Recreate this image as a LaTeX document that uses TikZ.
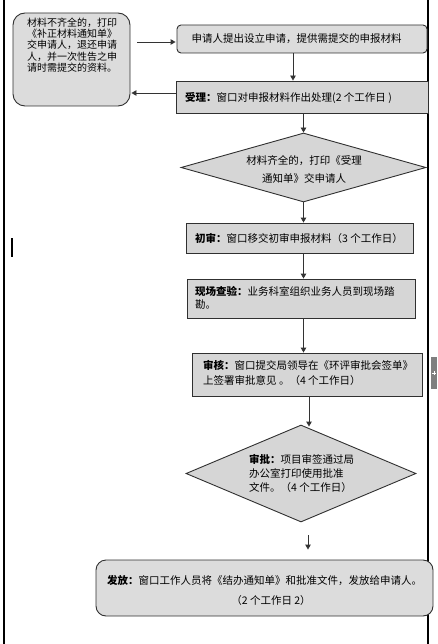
\documentclass[tikz,border=0pt]{standalone}
\usepackage{fontspec}
\setmainfont{Noto Sans CJK SC}
\usetikzlibrary{shapes.geometric,arrows.meta,calc}
\definecolor{boxfill}{HTML}{D6D6D6}
\definecolor{rboxfill}{HTML}{DCDCDC}
\definecolor{boxline}{HTML}{303030}
\definecolor{arrgray}{HTML}{333333}
\definecolor{tabgray}{HTML}{7F7F7F}
\tikzset{
  box/.style={draw=boxline, fill=boxfill, line width=0.9pt, inner sep=0pt, rectangle},
  rbox/.style={box, fill=rboxfill},
  dia/.style={diamond, draw=boxline, fill=boxfill, line width=0.9pt, inner sep=0pt},
  txt/.style={inner sep=0pt, font=\fontsize{10.5}{13}\selectfont, align=left},
  arr/.style={draw=arrgray, line width=0.9pt, -{Triangle[length=5pt,width=5.5pt]}},
  frame/.style={draw=black, line width=1.2pt}
}
\begin{document}
\begin{tikzpicture}[x=1pt,y=-1pt]
\useasboundingbox (0,0) rectangle (437,644);
% page frame
\draw[frame] (4,0) -- (4,644);
\draw[frame] (428,0) -- (428,644);
% cursor and side tab
\draw[black, line width=2pt] (12,238) -- (12,257);
\fill[tabgray] (431,357) rectangle (437,389);
\draw[white, line width=1pt] (432,373) -- (436,373) (434,371) -- (434,375);

% left box
\node[rbox, rounded corners=12pt, minimum width=117pt, minimum height=93pt] (L) at (71.5,59.5) {};
\node[txt, align=center, font=\fontsize{10}{11.2}\selectfont] (Lt) at (72,45)
  {材料不齐全的，打印\\《补正材料通知单》\\交申请人，退还申请\\人，并一次性告之申\\请时需提交的资料。};

% top box
\node[rbox, rounded corners=4pt, minimum width=250pt, minimum height=28pt] (A) at (302,39) {};
\node[txt] (At) at (296.5,38.5) {申请人提出设立申请，提供需提交的申报材料};

% acceptance
\node[box, minimum width=252pt, minimum height=32pt] (B) at (302,97) {};
\node[txt, anchor=west] (Bt) at (185,98) {\textbf{受理：}窗口对申报材料作出处理(2 个工作日 )};

% diamond 1
\node[dia, minimum width=245pt, minimum height=69pt] (D1) at (303.5,167.5) {};
\node[txt, align=center, font=\fontsize{10.5}{18}\selectfont] (D1t) at (304,169)
  {材料齐全的，打印《受理\\通知单》交申请人};

% first review
\node[box, minimum width=227pt, minimum height=30pt] (C) at (299.5,238) {};
\node[txt, anchor=west] (Ct) at (195,238) {\textbf{初审：}窗口移交初审申报材料（3 个工作日）};

% site inspection
\node[box, minimum width=228pt, minimum height=39pt] (E) at (301,298.5) {};
\node[txt, anchor=west] (Et) at (195,297.5) {\textbf{现场查验：}业务科室组织业务人员到现场踏\\勘。};

% review
\node[box, minimum width=230pt, minimum height=43pt] (F) at (307,374.5) {};
\node[txt, anchor=west, font=\fontsize{10.5}{15}\selectfont] (Ft) at (203,372.5)
  {\textbf{审核：}窗口提交局领导在《环评审批会签单》\\上签署审批意见 。（4 个工作日）};

% diamond 2
\node[dia, minimum width=230pt, minimum height=97pt] (D2) at (301,473.5) {};
\node[txt, anchor=west, font=\fontsize{10.5}{14}\selectfont] (D2t) at (249,473)
  {\textbf{审批：}项目审签通过局\\办公室打印使用批准\\文件。（4 个工作日）};

% issue
\node[rbox, rounded corners=10pt, minimum width=337pt, minimum height=56pt] (G) at (264.5,588) {};
\node[txt, anchor=west] (Gt1) at (107,581) {\textbf{发放：}窗口工作人员将《结办通知单》和批准文件，发放给申请人。};
\node[txt] (Gt2) at (271,601) {（2 个工作日 2）};

% connectors
\draw[arr] ($(L.east|-A.west)+(7,3)$) -- ($(A.west)+(-1,3)$);
\coordinate (a1) at ($(A.south)+(-9,0)$);
\draw[arr] (a1) -- (a1 |- B.north);
\draw[arr] ($(B.west)+(0,-4)$) -- ($(L.east|-B.west)+(1,-4)$);
\draw[arr] (D1.north |- B.south) -- (D1.north);
\draw[arr] (D1.south) -- (D1.south |- C.north);
\draw[arr] (C.south -| D1.south) -- (E.north -| D1.south);
\draw[arr] (E.south -| D1.south) -- (F.north -| D1.south);
\coordinate (f1) at ($(F.south)+(2,0)$);
\draw[arr] (f1) -- ($(f1 |- D2.north)+(0,2)$);
\draw[arr] ($(D2.south)+(7,13)$) -- ($(D2.south|-G.north)+(7,-10)$);
\end{tikzpicture}
\end{document}
